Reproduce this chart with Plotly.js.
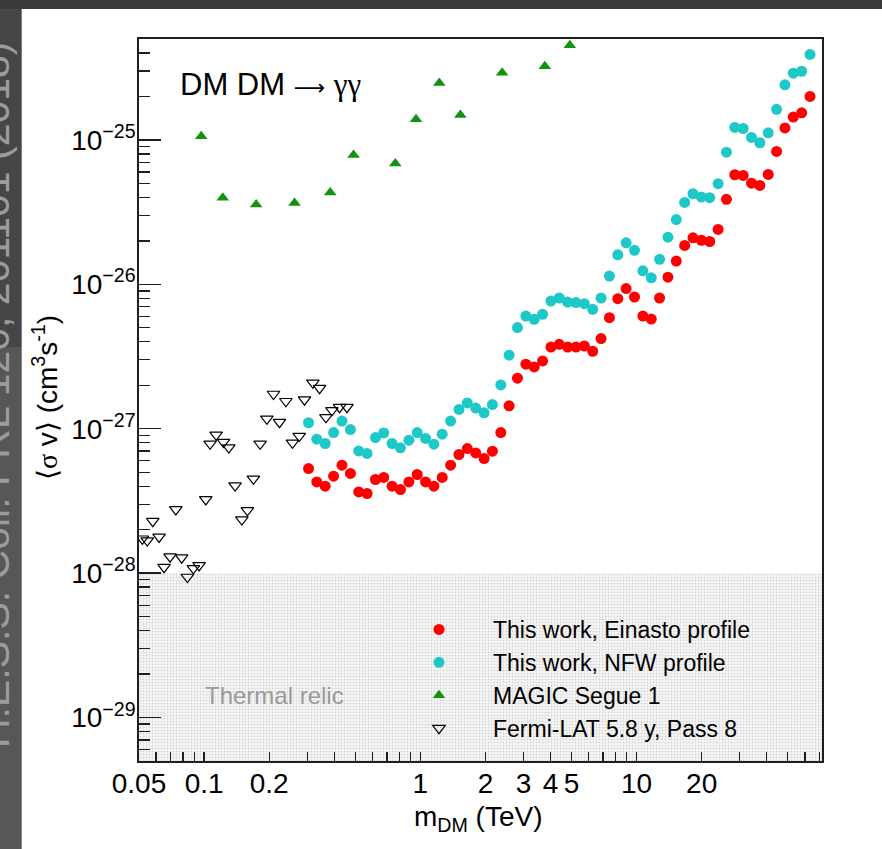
<!DOCTYPE html>
<html>
<head>
<meta charset="utf-8">
<script src="https://cdn.plot.ly/plotly-3.0.1.min.js"></script>
<style>
  html, body { margin: 0; padding: 0; background: #ffffff; }
  #chart { width: 882px; height: 849px; }
</style>
</head>
<body>
<div id="chart"></div>
<script>
// H.E.S.S. line-search upper limits on <sigma v> (cm^3 s^-1) vs DM mass (TeV)
const massHESS = [0.304, 0.332, 0.363, 0.397, 0.434, 0.475, 0.519, 0.567, 0.620, 0.677,
  0.740, 0.809, 0.885, 0.967, 1.057, 1.155, 1.262, 1.380, 1.509, 1.649,
  1.803, 1.971, 2.154, 2.355, 2.573, 2.813, 3.075, 3.361, 3.674, 4.016,
  4.389, 4.799, 5.244, 5.733, 6.266, 6.850, 7.487, 8.185, 8.945, 9.779,
  10.69, 11.69, 12.77, 13.96, 15.26, 16.68, 18.23, 19.93, 21.78, 23.81,
  26.03, 28.45, 31.10, 33.99, 37.15, 40.62, 44.39, 48.53, 53.04, 57.98, 63.37];

const sigmaEinasto = [5.30e-28, 4.28e-28, 4.00e-28, 4.69e-28, 5.59e-28, 4.90e-28, 3.65e-28, 3.56e-28, 4.45e-28, 4.60e-28,
  4.00e-28, 3.79e-28, 4.28e-28, 4.82e-28, 4.28e-28, 4.00e-28, 4.60e-28, 5.59e-28, 6.63e-28, 7.29e-28,
  6.80e-28, 6.22e-28, 6.99e-28, 9.41e-28, 1.44e-27, 2.24e-27, 2.80e-27, 2.68e-27, 2.95e-27, 3.68e-27,
  3.84e-27, 3.68e-27, 3.68e-27, 3.74e-27, 3.44e-27, 4.21e-27, 5.88e-27, 7.96e-27, 9.34e-27, 8.17e-27,
  6.03e-27, 5.75e-27, 8.04e-27, 1.12e-26, 1.45e-26, 1.86e-26, 2.10e-26, 2.02e-26, 1.98e-26, 2.40e-26,
  3.88e-26, 5.74e-26, 5.68e-26, 5.02e-26, 4.84e-26, 5.77e-26, 8.33e-26, 1.21e-25, 1.44e-25, 1.54e-25, 2.00e-25];

const sigmaNFW = [1.10e-27, 8.46e-28, 7.90e-28, 9.41e-28, 1.13e-27, 9.87e-28, 7.02e-28, 6.74e-28, 8.69e-28, 9.35e-28,
  7.90e-28, 7.37e-28, 8.33e-28, 9.41e-28, 8.56e-28, 7.81e-28, 9.16e-28, 1.13e-27, 1.36e-27, 1.51e-27,
  1.39e-27, 1.29e-27, 1.47e-27, 2.01e-27, 3.23e-27, 5.02e-27, 6.03e-27, 5.73e-27, 6.20e-27, 7.66e-27,
  8.04e-27, 7.54e-27, 7.47e-27, 7.35e-27, 6.71e-27, 8.04e-27, 1.14e-26, 1.60e-26, 1.94e-26, 1.72e-26,
  1.24e-26, 1.11e-26, 1.49e-26, 2.12e-26, 2.81e-26, 3.69e-26, 4.24e-26, 4.02e-26, 3.98e-26, 4.98e-26,
  8.23e-26, 1.22e-25, 1.20e-25, 1.04e-25, 9.56e-26, 1.12e-25, 1.63e-25, 2.41e-25, 2.90e-25, 2.99e-25, 3.91e-25];

// MAGIC Segue 1 limits
const massMAGIC = [0.097, 0.122, 0.174, 0.262, 0.383, 0.491, 0.766, 0.955, 1.224, 1.532, 2.389, 3.763, 4.912];
const sigmaMAGIC = [1.06e-25, 3.97e-26, 3.57e-26, 3.66e-26, 4.33e-26, 7.85e-26, 6.87e-26, 1.39e-25, 2.48e-25, 1.49e-25, 2.92e-25, 3.24e-25, 4.53e-25];

// Fermi-LAT 5.8 y Pass 8 limits
const massFermi = [0.0518, 0.0546, 0.0579, 0.0619, 0.0653, 0.0696, 0.0740, 0.0788, 0.0837, 0.0892,
  0.0948, 0.1018, 0.1066, 0.1137, 0.1229, 0.1301, 0.1391, 0.1495, 0.1586, 0.1691,
  0.1816, 0.1951, 0.2094, 0.2232, 0.2389, 0.2563, 0.2754, 0.2913, 0.3186, 0.3419,
  0.3660, 0.3901, 0.4230, 0.4577];
const sigmaFermi = [1.73e-28, 1.68e-28, 2.29e-28, 1.78e-28, 1.10e-28, 1.30e-28, 2.76e-28, 1.28e-28, 9.40e-29, 1.08e-28,
  1.13e-28, 3.24e-28, 7.86e-28, 9.08e-28, 8.08e-28, 7.41e-28, 4.04e-28, 2.35e-28, 2.72e-28, 4.50e-28,
  7.86e-28, 1.17e-27, 1.74e-27, 1.11e-27, 1.55e-27, 7.98e-28, 8.89e-28, 1.59e-27, 2.08e-27, 1.91e-27,
  1.20e-27, 1.34e-27, 1.41e-27, 1.41e-27];

// thermal relic band upper edge
const thermalRelic = 1e-28;

const xLimits = [0.05, 72];
const yLimits = [5e-30, 5e-25];

const xTickVals = [0.05, 0.1, 0.2, 1, 2, 3, 4, 5, 10, 20];
const xTickText = ['0.05', '0.1', '0.2', '1', '2', '3', '4', '5', '10', '20'];
const xDecadeTicks = [0.1, 1, 10];
const yTickVals = [1e-29, 1e-28, 1e-27, 1e-26, 1e-25];
const yTickText = ['10<sup>\u221229</sup>', '10<sup>\u221228</sup>', '10<sup>\u221227</sup>', '10<sup>\u221226</sup>', '10<sup>\u221225</sup>'];

const seriesNames = ['This work, Einasto profile', 'This work, NFW profile', 'MAGIC Segue 1', 'Fermi-LAT 5.8 y, Pass 8'];

// minor tick positions (2..9 within each decade), skipping labelled values
function minorTicks(lo, hi, skip) {
  const out = [];
  for (let e = Math.floor(Math.log10(lo)); e <= Math.ceil(Math.log10(hi)); e++) {
    for (let m = 2; m <= 9; m++) {
      const v = m * Math.pow(10, e);
      if (v > lo * 1.0001 && v < hi && !skip.some(s => Math.abs(s - v) / v < 1e-6)) out.push(v);
    }
  }
  return out;
}

const FONT = 'Liberation Sans, Arial, Helvetica, sans-serif';
const AXC = '#1e1e1e';

const traces = [
  {
    x: [xLimits[0], xLimits[1], xLimits[1], xLimits[0]],
    y: [yLimits[0], yLimits[0], thermalRelic, thermalRelic],
    type: 'scatter', mode: 'none', fill: 'toself',
    fillcolor: '#f2f2f2',
    fillpattern: { shape: '.', size: 3, solidity: 0.3, fgcolor: '#d6d6d6', bgcolor: '#f7f7f7' },
    showlegend: false, hoverinfo: 'skip'
  },
  {
    x: massHESS, y: sigmaEinasto, name: seriesNames[0],
    type: 'scatter', mode: 'markers',
    marker: { symbol: 'circle', size: 11, color: '#ff0000' }
  },
  {
    x: massHESS, y: sigmaNFW, name: seriesNames[1],
    type: 'scatter', mode: 'markers',
    marker: { symbol: 'circle', size: 11, color: '#1fc8c8' }
  },
  {
    x: massMAGIC, y: sigmaMAGIC, name: seriesNames[2],
    type: 'scatter', mode: 'markers',
    marker: { symbol: 'triangle-up', size: 11, color: '#119211' }
  },
  {
    x: massFermi, y: sigmaFermi, name: seriesNames[3],
    type: 'scatter', mode: 'markers',
    marker: { symbol: 'triangle-down-open', size: 11, color: '#000000', line: { width: 1.2, color: '#000000' } }
  }
];

const px2paperX = p => (p - 139) / 683;
const px2paperY = p => (761 - p) / 722;

const layout = {
  width: 882, height: 849,
  margin: { l: 139, r: 60, t: 39, b: 88, pad: 0 },
  paper_bgcolor: '#ffffff', plot_bgcolor: 'rgba(0,0,0,0)',
  font: { family: FONT, color: '#000000' },
  showlegend: true,
  legend: {
    x: px2paperX(385), y: px2paperY(608), xanchor: 'left', yanchor: 'top',
    bgcolor: 'rgba(0,0,0,0)', borderwidth: 0,
    font: { family: FONT, size: 23, color: '#000' },
    itemwidth: 98, tracegroupgap: 0
  },
  xaxis: {
    type: 'log', range: [Math.log10(xLimits[0]), Math.log10(xLimits[1])],
    tickmode: 'array', tickvals: xTickVals, ticktext: xTickText,
    ticks: 'inside', ticklen: 9, tickwidth: 1.3, tickcolor: AXC,
    ticklabelstandoff: -3,
    tickfont: { family: FONT, size: 28, color: '#000' },
    showline: true, linecolor: AXC, linewidth: 1.8, mirror: true,
    showgrid: false, zeroline: false,
    minor: { tickmode: 'array', tickvals: minorTicks(xLimits[0], xLimits[1], xTickVals), ticks: 'inside', ticklen: 9, tickwidth: 1.3, tickcolor: AXC, showgrid: false }
  },
  xaxis2: {
    type: 'log', range: [Math.log10(xLimits[0]), Math.log10(xLimits[1])],
    overlaying: 'x', anchor: 'y', side: 'bottom',
    tickmode: 'array', tickvals: xDecadeTicks,
    ticks: 'inside', ticklen: 19, tickwidth: 1.3, tickcolor: AXC,
    showticklabels: false, showline: false, showgrid: false, zeroline: false
  },
  yaxis: {
    type: 'log', range: [Math.log10(yLimits[0]), Math.log10(yLimits[1])],
    tickmode: 'array', tickvals: yTickVals, ticktext: yTickText,
    ticks: 'inside', ticklen: 22, tickwidth: 1.3, tickcolor: AXC,
    ticklabelstandoff: -4,
    tickfont: { family: FONT, size: 28, color: '#000' },
    showline: true, linecolor: AXC, linewidth: 1.8, mirror: true,
    showgrid: false, zeroline: false,
    minor: { tickmode: 'array', tickvals: minorTicks(yLimits[0], yLimits[1], yTickVals), ticks: 'inside', ticklen: 11, tickwidth: 1.3, tickcolor: AXC, showgrid: false }
  },
  shapes: [
    { type: 'rect', xref: 'paper', yref: 'paper', layer: 'below', line: { width: 0 },
      x0: px2paperX(-5), x1: px2paperX(890), y0: px2paperY(9), y1: px2paperY(-5), fillcolor: '#3b3b3d' },
    { type: 'rect', xref: 'paper', yref: 'paper', layer: 'below', line: { width: 0 },
      x0: px2paperX(-5), x1: px2paperX(21.7), y0: px2paperY(347), y1: px2paperY(9), fillcolor: '#464648' },
    { type: 'rect', xref: 'paper', yref: 'paper', layer: 'below', line: { width: 0 },
      x0: px2paperX(-5), x1: px2paperX(21.7), y0: px2paperY(855), y1: px2paperY(347), fillcolor: '#575757' }
  ],
  annotations: [
    { xref: 'paper', yref: 'paper', x: px2paperX(-5), y: px2paperY(395), textangle: -90,
      text: 'H.E.S.S. Coll. PRL 120, 201101 (2018)', showarrow: false,
      font: { family: FONT, size: 41, color: '#9c9c9c' }, xanchor: 'center', yanchor: 'middle' },
    { xref: 'paper', yref: 'paper', x: px2paperX(178), y: px2paperY(85), xanchor: 'left', yanchor: 'middle',
      text: 'DM DM <span style="font-family:DejaVu Sans;font-size:22px">\u27f6</span> <span style="font-family:Liberation Serif">\u03b3\u03b3</span>', showarrow: false,
      font: { family: FONT, size: 31, color: '#000' } },
    { xref: 'paper', yref: 'paper', x: px2paperX(274), y: px2paperY(695), xanchor: 'center', yanchor: 'middle',
      text: 'Thermal relic', showarrow: false,
      font: { family: FONT, size: 24, color: '#9a9a9a' } },
    { xref: 'paper', yref: 'paper', x: px2paperX(478), y: px2paperY(819), xanchor: 'center', yanchor: 'middle',
      text: 'm<sub>DM</sub> (TeV)', showarrow: false,
      font: { family: FONT, size: 28, color: '#000' } },
    { xref: 'paper', yref: 'paper', x: px2paperX(45), y: px2paperY(398), xanchor: 'center', yanchor: 'middle',
      textangle: -90,
      text: '\u27e8<span style="font-family:Liberation Serif">\u03c3</span> v\u27e9 (cm<sup>3</sup>s<sup>-1</sup>)', showarrow: false,
      font: { family: FONT, size: 28, color: '#000' } }
  ]
};

Plotly.newPlot('chart', traces, layout, { displayModeBar: false, staticPlot: true });
</script>
</body>
</html>
